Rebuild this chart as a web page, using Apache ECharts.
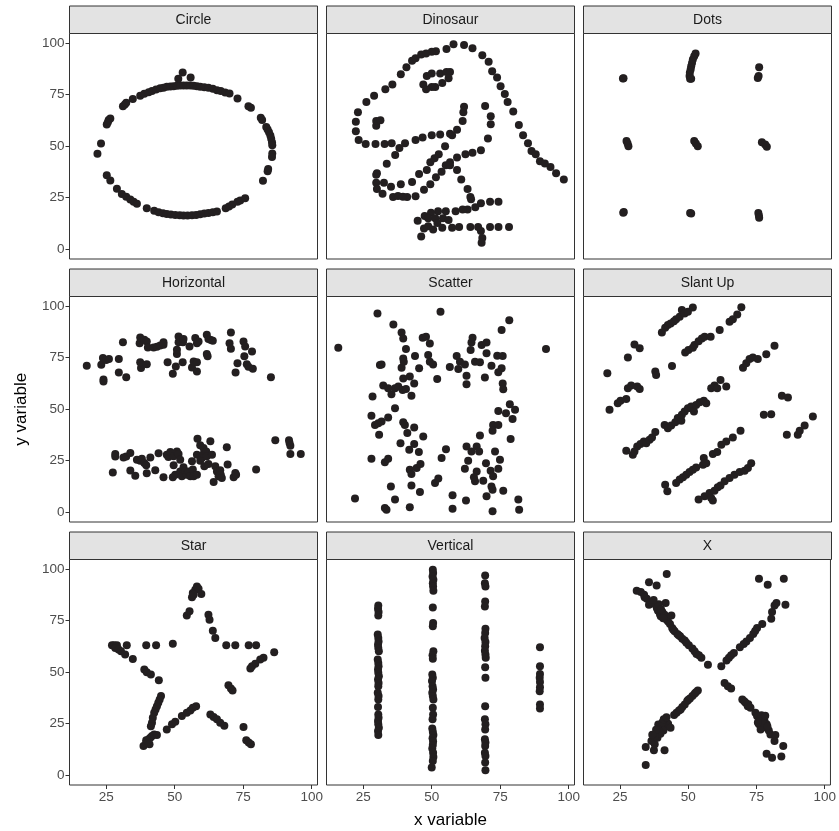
<!DOCTYPE html>
<html><head><meta charset="utf-8">
<script src="https://cdn.jsdelivr.net/npm/echarts@6/dist/echarts.min.js"></script>
<style>html,body{margin:0;padding:0;background:#fff}#c{width:839px;height:831px}</style>
</head><body><div id="c"></div>
<script>
const panelNames = ['Circle','Dinosaur','Dots','Horizontal','Scatter','Slant Up','Star','Vertical','X'];
const xTicks = [25,50,75,100];
const yTicks = [0,25,50,75,100];

const circle = [[21.8,46.2],[23.1,51.2],[25.2,60.5],[25.9,62.6],[26.5,63.4],[25.6,61.6],
[31.1,69.4],[31.8,70.2],[32.3,71.0],[34.7,72.9],
[37.4,74.4],[38.9,75.4],[40.5,76.2],[41.7,76.7],[43.2,77.5],[44.7,78.1],[45.9,78.3],[47.1,78.8],[48.4,78.9],[49.6,79.1],[50.8,79.3],[52.0,79.4],[53.2,79.4],[54.4,79.4],[55.7,79.4],[56.9,79.3],[58.1,79.1],[59.3,78.8],[60.8,78.6],[62.3,78.3],[63.9,77.8],[65.4,77.1],[66.8,76.7],[68.4,76.0],[70.0,75.5],
[72.9,73.1],[76.9,69.4],[77.8,68.6],[81.4,63.7],[81.9,62.6],
[83.4,59.3],[83.9,58.0],[84.4,56.7],[84.9,55.1],[85.2,53.5],[85.5,51.9],[85.6,50.4],[85.6,46.4],[85.5,44.7],[84.1,38.9],[83.9,37.8],[82.2,33.1],
[51.3,82.7],[52.9,85.7],[55.8,83.3],
[25.2,35.8],[26.5,33.2],[28.9,29.2],[30.7,26.7],[32.3,25.3],[33.8,24.0],[35.0,22.9],[36.2,21.9],[39.8,19.8],[42.5,18.5],[44.1,17.8],[45.7,17.3],[47.1,17.0],[48.6,16.7],[50.2,16.5],[51.8,16.4],[53.2,16.2],[54.7,16.2],[56.3,16.4],[57.8,16.5],[59.3,16.9],[60.8,17.2],[62.3,17.5],[63.9,17.8],[65.4,18.2],[68.6,19.8],[69.8,20.6],[71.0,21.6],[72.9,22.9],[73.9,23.5],[75.7,24.6]];

const dino = [[55.3846,97.1795],[51.5385,96.0256],[46.1538,94.4872],[42.8205,91.4103],[40.7692,88.3333],[38.7179,84.8718],[35.641,79.8718],[33.0769,77.5641],[28.9744,74.4872],[26.1538,71.4103],[23.0769,66.4103],[22.3077,61.7949],[22.3077,57.1795],[23.3333,52.9487],[25.8974,51.0256],[29.4872,51.0256],[32.8205,51.0256],[35.3846,51.4103],[40.2564,51.4103],[44.1026,52.9487],[46.6667,54.1026],[50.0,55.2564],[53.0769,55.641],[56.6667,56.0256],[59.2308,57.9487],[61.2821,62.1795],[61.5385,66.4103],[61.7949,69.1026],[57.4359,55.2564],[54.8718,49.8718],[52.5641,46.0256],[48.2051,38.3333],[49.4872,42.1795],[51.0256,44.1026],[45.3846,36.4103],[42.8205,32.5641],[38.7179,31.4103],[35.1282,30.2564],[32.5641,32.1795],[30.0,36.7949],[33.5897,41.4103],[36.6667,45.641],[38.2051,49.1026],[29.7436,36.0256],[29.7436,32.1795],[30.0,29.1026],[32.0513,26.7949],[35.8974,25.2564],[41.0256,25.2564],[44.1026,25.641],[47.1795,28.718],[49.4872,31.4103],[51.5385,34.8718],[53.5897,37.5641],[55.1282,40.641],[56.6667,42.1795],[59.2308,44.4872],[62.3077,46.0256],[64.8718,46.7949],[67.9487,47.9487],[70.5128,53.718],[71.5385,60.641],[71.5385,64.4872],[69.4872,69.4872],[46.9231,79.8718],[48.2051,84.1026],[50.0,85.2564],[53.0769,85.2564],[55.3846,86.0256],[56.6667,86.0256],[56.1538,82.9487],[53.8462,80.641],[51.2821,78.718],[50.0,78.718],[47.9487,77.5641],[29.7436,59.8718],[29.7436,62.1795],[31.2821,62.5641],[57.9487,99.4872],[61.7949,99.1026],[64.8718,97.5641],[68.4615,94.1026],[70.7692,91.0256],[72.0513,86.4103],[73.8462,83.3333],[75.1282,79.1026],[76.6667,75.2564],[77.6923,71.4103],[79.7436,66.7949],[81.7949,60.2564],[83.3333,55.2564],[85.1282,51.4103],[86.4103,47.5641],[87.9487,46.0256],[89.4872,42.5641],[93.3333,39.8718],[95.3846,36.7949],[98.2051,33.718],[56.6667,40.641],[59.2308,38.3333],[60.7692,33.718],[63.0769,29.1026],[64.1026,25.2564],[64.359,24.1026],[74.359,22.9487],[71.2821,22.9487],[67.9487,22.1795],[65.8974,20.2564],[63.0769,19.1026],[61.2821,19.1026],[58.7179,18.3333],[55.1282,18.3333],[52.3077,18.3333],[49.7436,17.5641],[47.4359,16.0256],[44.8718,13.718],[48.7179,14.8718],[51.2821,14.8718],[54.1026,14.8718],[56.1538,14.1026],[52.0513,12.5641],[48.7179,11.0256],[47.1795,9.8718],[46.1538,6.0256],[50.5128,9.4872],[53.8462,10.2564],[57.4359,10.2564],[60.0,10.641],[64.1026,10.641],[66.9231,10.641],[71.2821,10.641],[74.359,10.641],[78.2051,10.641],[67.9487,8.718],[68.4615,5.2564],[68.2051,2.9487],[37.6923,25.7692],[39.4872,25.3846],[91.2821,41.5385],[50.0,95.7692],[47.9487,95.0],[44.1026,92.6923]];

const dots = [[26.0,82.8],[26.2,83.0],
[50.5,82.7],[50.3,84.0],[50.4,85.6],[50.7,87.2],[50.9,88.8],[51.2,90.4],[51.5,92.1],[52.0,93.7],[52.5,95.0],[50.9,82.7],
[75.7,88.3],[75.2,83.1],[75.5,84.0],
[27.7,51.2],[28.0,49.9],[27.3,52.4],
[52.6,51.2],[52.0,52.4],[53.3,49.9],
[76.7,51.9],[77.9,50.7],[78.5,49.6],
[26.3,18.0],[26.1,17.6],
[50.9,17.2],[50.5,17.5],
[75.6,16.2],[75.4,17.5],[75.7,15.1]];

const horizontal = [[17.9,71.0],[23.2,71.5],[23.8,74.8],[25.0,73.8],[26.0,74.3],[24.0,64.4],[24.0,63.4],[29.6,74.3],[29.6,67.8],[32.3,65.5],[31.1,82.5],[37.2,82.0],[37.4,84.8],[38.9,83.7],[39.8,82.8],[40.2,79.9],[37.7,69.9],[37.4,72.7],[39.8,71.8],[42.3,79.9],[43.5,80.3],[44.7,80.9],[45.9,82.5],[45.9,81.2],[47.4,72.7],[49.3,67.2],[50.4,70.7],[50.8,76.7],[50.8,78.8],[51.4,82.5],[51.4,85.3],[53.0,82.5],[53.2,84.1],[52.9,72.8],[55.4,80.4],[56.3,70.2],[56.9,73.1],[58.1,68.3],[58.1,72.8],[57.5,84.5],[58.1,82.0],[58.7,82.8],[61.7,86.1],[62.3,84.1],[63.2,83.5],[63.9,83.2],[61.7,76.7],[62.0,75.6],[70.5,87.2],[70.0,82.0],[70.5,79.3],[72.2,67.8],[72.9,72.3],[75.1,82.8],[75.7,80.4],[75.4,75.6],[76.3,71.8],[76.9,70.6],[78.2,78.0],[78.5,69.6],[85.1,65.5],
[27.4,19.1],[28.3,28.2],[28.3,26.9],[31.3,26.5],[32.3,26.9],[33.8,28.6],[33.8,20.1],[35.6,17.6],[36.2,25.4],[37.4,24.9],[38.0,25.9],[38.9,23.8],[39.6,22.7],[39.8,18.8],[41.1,26.5],[42.9,20.2],[44.1,28.5],[45.9,16.8],[47.1,27.8],[47.7,26.7],[48.4,29.1],[49.3,16.8],[49.6,27.0],[49.6,22.7],[50.2,18.1],[50.8,29.4],[51.4,28.2],[52.0,25.4],[52.0,19.7],[52.6,17.3],[53.2,21.7],[53.8,19.7],[54.4,18.1],[55.0,19.7],[55.7,17.3],[56.3,24.6],[56.6,20.6],[56.9,17.3],[58.1,18.1],[58.1,27.8],[58.3,35.6],[59.3,32.4],[59.3,24.9],[59.9,26.2],[60.5,28.2],[60.5,31.1],[60.8,22.2],[61.5,29.4],[61.7,27.0],[62.3,23.3],[63.0,34.3],[63.6,27.8],[64.2,14.6],[64.8,22.2],[65.4,19.7],[66.0,17.3],[66.6,20.2],[66.8,18.1],[67.2,16.5],[69.0,31.4],[69.3,23.0],[71.5,16.8],[72.1,18.9],[72.4,18.1],[79.7,20.6],[86.7,34.8],[91.7,34.8],[91.9,33.5],[92.2,28.2],[92.2,32.2],[96.0,28.2]];

const scatter = [[15.9,79.8],[30.2,96.4],[53.2,97.3],[36.0,91.1],[39.0,87.2],[39.6,84.3],[40.6,79.2],[39.6,74.6],[39.0,70.1],[39.8,73.0],[43.9,75.8],[45.4,69.8],[46.7,84.7],[47.9,85.1],[49.3,81.9],[48.7,76.3],[49.3,73.0],[50.5,71.7],[52.0,64.6],[31.1,71.4],[31.7,71.7],[39.6,64.9],[42.0,65.8],[43.6,62.4],[32.3,61.4],[34.1,60.1],[35.3,57.2],[36.6,60.1],[37.8,60.9],[39.4,59.3],[40.6,59.8],[42.6,56.5],[28.4,56.1],[36.6,50.4],[28.0,46.7],[29.3,42.3],[30.5,43.1],[31.7,43.9],[34.1,45.9],[30.8,37.5],[39.6,43.6],[40.2,42.3],[41.1,38.3],[43.6,41.0],[46.9,36.7],[38.6,33.4],[41.8,30.2],[43.6,33.0],[45.3,29.1],[28.0,25.8],[32.9,24.2],[34.1,25.8],[42.0,20.5],[42.6,18.4],[44.5,21.3],[45.9,23.3],[51.2,14.1],[52.4,16.2],[53.6,26.2],[55.2,30.5],[35.1,12.3],[42.6,12.9],[45.7,9.7],[22.0,6.5],[36.6,6.0],[32.9,1.9],[33.5,1.1],[42.0,2.3],[57.6,8.1],[57.6,1.6],[62.5,5.5],[70.0,7.6],[72.2,0.3],[76.1,10.3],[81.6,6.0],[81.9,1.1],
[78.3,93.1],[75.5,88.4],[64.9,84.7],[64.5,82.4],[64.2,78.7],[68.2,81.1],[70.0,82.4],[70.0,77.1],[59.1,75.8],[60.3,73.0],[59.7,69.5],[62.1,71.7],[56.6,70.4],[65.8,73.0],[67.6,72.7],[62.7,66.2],[62.7,62.0],[69.4,65.3],[71.8,71.1],[73.9,75.9],[75.9,75.8],[75.5,69.8],[74.3,67.9],[75.9,62.4],[76.1,59.6],[91.7,79.2],[74.3,49.1],[77.1,48.0],[78.5,52.3],[80.4,49.6],[79.5,45.2],[72.4,42.3],[74.3,42.3],[72.2,39.4],[78.8,35.5],[67.6,37.2],[62.7,31.8],[64.5,29.4],[66.4,31.8],[67.3,29.4],[73.1,29.4],[74.9,25.4],[74.3,21.0],[71.5,20.0],[72.4,17.3],[69.8,23.7],[63.3,24.9],[62.1,21.0],[66.4,19.7],[68.8,15.2],[65.8,14.9],[65.4,16.8],[71.8,12.4],[72.2,10.8]];

const slantUp = [[40.2,87.2],[41.4,89.5],[42.4,90.8],[43.4,91.6],[44.6,92.7],[45.4,93.7],[46.7,94.8],[47.5,98.1],[48.5,96.4],[49.7,97.3],[51.5,99.4],
[27.8,75.0],[30.2,81.4],[32.1,79.5],
[20.3,67.4],[37.8,68.2],[38.1,66.6],[43.9,70.9],
[48.7,77.5],[49.9,78.7],[51.5,79.8],[52.1,81.1],[53.6,83.0],[54.8,84.3],[55.8,85.1],[58.0,85.1],[61.3,88.4],[64.9,92.4],[66.1,93.7],[67.7,96.0],[69.2,99.5],
[21.1,49.6],[24.1,52.8],[25.1,54.0],[27.2,54.9],[27.8,60.1],[29.0,61.4],[31.2,60.9],[32.1,59.8],
[27.2,29.7],[29.6,27.8],[30.2,29.4],[31.2,31.8],[32.4,33.0],[33.6,34.2],[34.5,33.4],[35.7,35.1],[36.6,36.2],[37.8,38.8],[41.2,42.3],[42.4,40.7],[43.6,42.0],[45.1,43.6],[46.0,45.6],[47.3,44.3],[47.5,47.2],[48.5,48.8],[49.7,50.4],[50.9,51.2],[51.9,48.8],[52.7,52.0],[54.0,53.3],[55.5,54.0],[56.4,52.8],
[58.2,60.1],[59.4,61.4],[60.4,60.1],[61.6,64.1],[63.7,60.9],
[69.8,70.1],[71.0,72.2],[72.2,74.3],[73.4,75.0],[75.2,74.3],[78.3,76.6],[81.3,80.8],
[84.0,56.5],[86.2,55.6],[77.4,47.2],[80.1,47.5],
[85.8,37.5],[89.8,37.5],[90.5,39.4],[92.3,42.0],[95.3,46.4],
[41.4,13.2],[42.2,10.0],[45.4,14.1],[46.7,15.7],[47.9,16.8],[49.1,18.1],[50.3,19.4],[51.5,20.5],[52.7,21.6],[55.2,22.9],[55.5,26.2],[56.4,23.7],[58.8,28.1],[60.4,29.1],[61.9,32.6],[63.7,34.2],[66.1,36.2],[68.9,39.4],
[53.6,6.0],[55.8,7.6],[57.6,9.2],[58.8,5.5],[59.4,10.3],[60.6,12.0],[61.6,12.9],[63.1,14.9],[64.9,16.5],[66.7,18.1],[68.6,19.4],[70.4,20.0],[71.6,21.3],[72.8,23.7],[58.2,6.8]];

const star = [[27.1,63.0],[27.9,63.0],[28.9,63.0],[28.3,61.7],[29.5,60.9],[30.4,60.1],[31.9,58.5],[34.7,56.4],[32.5,63.0],
[39.6,63.0],[43.2,63.0],[49.3,63.7],
[38.9,51.2],[39.8,49.9],[41.3,48.8],[44.2,46.0],
[45.0,38.3],[44.5,36.7],[44.0,35.1],[43.5,33.4],[43.0,31.8],[42.5,30.2],[42.0,27.8],[41.7,25.4],[41.3,23.7],
[38.6,14.1],[39.6,15.7],[40.5,17.3],[41.1,18.1],[41.7,18.9],[42.5,19.7],[43.5,19.4],[39.6,16.8],[40.8,14.9],[47.1,22.1],[49.0,24.6],[50.2,25.8],[52.6,28.6],[54.4,30.2],[55.7,31.3],[56.6,32.6],[57.8,33.4],
[54.4,77.5],[55.4,79.5],[56.3,86.3],[56.6,88.4],[57.5,90.0],[58.1,91.6],[58.7,90.5],[59.7,87.9],[56.9,87.6],
[62.3,77.9],[62.7,75.4],[63.9,70.1],[64.8,66.6],[68.8,63.0],[72.1,63.0],[77.0,63.0],[79.7,63.0],
[86.3,59.6],[82.4,56.9],[81.2,56.1],[79.4,54.0],[78.2,52.8],[77.6,51.7],
[69.6,43.6],[70.5,42.0],[71.1,41.0],
[63.0,29.4],[64.2,28.1],[65.4,27.0],[66.6,25.4],[68.1,23.9],[75.1,23.3],[76.1,16.8],[77.0,15.7],[77.8,14.9]];

const vertical = [
[30.5,82.4],[30.4,80.8],[30.6,79.2],[30.5,77.5],[30.3,68.2],[30.5,66.6],[30.6,64.9],[30.4,63.3],[30.5,61.7],[30.7,60.1],[30.3,56.1],[30.5,54.4],[30.6,52.8],[30.4,51.2],[30.5,49.6],[30.7,48.0],[30.4,46.4],[30.6,44.7],[30.5,43.1],[30.3,39.9],[30.6,38.3],[30.5,36.7],[30.4,33.0],[30.5,29.4],[30.6,27.8],[30.4,26.2],[30.5,24.6],[30.7,22.9],[30.4,21.3],[30.5,19.4],
[50.4,99.7],[50.5,98.1],[50.3,96.4],[50.6,94.8],[50.4,93.2],[50.5,91.6],[50.6,89.5],[50.4,81.4],[50.5,73.8],[50.4,72.2],[50.6,60.1],[50.3,58.2],[50.4,56.5],[50.2,48.8],[50.4,47.2],[50.1,45.6],[50.3,43.1],[50.5,41.5],[50.2,39.9],[50.4,38.3],[50.6,36.7],[50.4,32.6],[50.5,29.4],[50.3,27.0],[50.2,22.6],[50.4,21.0],[50.6,19.4],[50.3,17.8],[50.5,16.2],[50.4,14.5],[50.2,12.9],[50.5,10.8],[50.6,8.7],[50.4,6.8],[50.0,3.6],
[69.5,96.9],[69.4,93.2],[69.6,91.6],[69.5,84.3],[69.4,81.9],[69.6,71.1],[69.5,69.0],[69.3,66.6],[69.6,64.6],[69.5,62.5],[69.4,60.4],[69.6,58.5],[69.7,56.9],[69.5,52.3],[69.6,47.2],[69.5,33.4],[69.4,27.0],[69.6,24.6],[69.5,22.1],[69.4,17.3],[69.6,15.7],[69.5,14.1],[69.4,10.8],[69.6,9.2],[69.5,6.0],[69.6,2.3],
[89.5,62.0],[89.5,52.8],[89.5,49.1],[89.4,47.2],[89.5,45.2],[89.5,42.6],[89.4,40.7],[89.5,34.2],[89.5,32.3]];

const xShape = [[31.1,89.5],[32.6,88.9],[33.8,87.6],[34.8,85.6],[35.6,82.7],[36.0,84.0],[36.8,83.5],[38.0,82.7],[38.9,79.8],[39.6,78.2],[39.9,77.1],[40.5,79.2],[41.3,77.9],[41.7,83.5],[42.1,75.4],[42.6,74.6],[43.3,73.3],[43.8,77.5],[44.1,71.4],[45.0,69.8],[46.0,68.5],[47.0,67.4],[47.8,66.2],[48.7,65.3],[50.2,63.0],[51.5,61.4],[52.3,60.1],[53.0,58.8],[53.9,58.2],[54.8,56.9],[57.2,53.6],[35.6,93.7],[38.4,92.1],[42.1,97.6],
[38.5,81.0],[39.2,83.0],[40.0,80.5],[40.8,76.2],[37.3,85.0],[34.0,86.3],[44.5,70.5],[46.5,67.9],[49.3,64.2],
[34.4,4.8],[34.4,13.6],[36.5,16.5],[37.4,12.0],[37.7,14.9],[38.7,18.1],[39.3,21.3],[40.1,22.6],[40.9,21.6],[41.3,12.0],[41.7,23.7],[42.6,24.9],[43.5,22.9],[44.8,29.1],[45.7,30.2],[46.6,31.3],[47.8,33.0],[48.7,34.2],[49.6,35.9],[50.6,37.2],[51.5,38.3],[52.3,39.4],[53.5,41.0],
[39.0,24.5],[40.5,25.5],[39.8,20.0],[37.8,18.8],[41.0,27.0],[42.0,28.0],[38.2,22.0],[36.8,19.5],[47.2,31.8],[50.0,36.5],[52.8,40.2],
[62.1,52.8],[64.0,55.6],[64.9,56.9],[65.7,58.2],[66.7,59.3],[68.9,62.0],[71.3,64.9],[72.6,66.6],[73.8,68.5],[75.2,71.4],[77.1,73.3],[80.4,75.9],[80.7,79.2],[81.6,82.4],[82.3,83.5],[85.6,82.7],[75.9,95.3],[79.1,92.4],[85.0,95.3],
[70.3,63.6],[74.5,70.0],
[63.3,44.7],[64.5,43.1],[65.7,42.0],[69.8,36.7],[71.0,35.1],[71.8,33.4],[72.8,32.6],[74.6,30.2],[75.2,28.6],[76.2,27.0],[75.9,24.6],[77.1,22.9],[77.9,26.2],[78.7,24.6],[76.5,22.1],[79.5,21.6],[80.1,19.7],[81.9,19.4],[81.6,16.5],[84.8,14.1],[78.7,10.3],[80.7,8.4],[84.1,8.9],
[76.8,29.0],[77.5,27.8],[78.2,28.8],[76.0,26.0],[77.2,25.2],[79.0,23.5],[75.5,25.5],[72.0,34.3],[70.5,35.8]];

const panelData = [circle, dino, dots, horizontal, scatter, slantUp, star, vertical, xShape];

const FONT = '"Liberation Sans", Arial, Helvetica, sans-serif';
const colLeft = [69.5, 326.5, 583.5];
const plotW = 248;
const rowTop = [33.5, 296.5, 559.5];
const plotH = 225.5;
const stripH = 27.5;

const grids = [], xAxes = [], yAxes = [], series = [], graphics = [];
panelNames.forEach((name, i) => {
  const col = i % 3, row = Math.floor(i / 3);
  grids.push({left: colLeft[col], top: rowTop[row], width: plotW, height: plotH,
    show: true, borderColor: '#333333', borderWidth: 1, backgroundColor: '#ffffff'});
  xAxes.push({gridIndex: i, type: 'value', min: 11.6, max: 102.1, position: 'bottom',
    axisLine: {show: false, onZero: false}, splitLine: {show: false},
    axisTick: {show: row === 2, customValues: xTicks, length: 4, lineStyle: {color: '#333333'}},
    axisLabel: {show: row === 2, customValues: xTicks, color: '#4d4d4d', fontSize: 13.5, fontFamily: FONT, margin: 5}});
  yAxes.push({gridIndex: i, type: 'value', min: -4.9, max: 104.7, position: 'left',
    axisLine: {show: false, onZero: false}, splitLine: {show: false},
    axisTick: {show: col === 0, customValues: yTicks, length: 4, lineStyle: {color: '#333333'}},
    axisLabel: {show: col === 0, customValues: yTicks, color: '#4d4d4d', fontSize: 13.5, fontFamily: FONT, margin: 5}});
  series.push({type: 'scatter', xAxisIndex: i, yAxisIndex: i, data: panelData[i],
    symbolSize: 8, itemStyle: {color: '#231f20', opacity: 1}, silent: true, animation: false});
  graphics.push({type: 'rect', shape: {x: colLeft[col], y: rowTop[row] - stripH, width: plotW, height: stripH},
    style: {fill: '#e3e3e3', stroke: '#333333', lineWidth: 1}});
  graphics.push({type: 'text', x: colLeft[col] + plotW / 2, y: rowTop[row] - stripH / 2,
    style: {text: name, fill: '#1a1a1a', font: '14px ' + FONT, textAlign: 'center', textVerticalAlign: 'middle'}});
});
graphics.push({type: 'text', x: colLeft[0] + (colLeft[2] + plotW - colLeft[0]) / 2, y: 820,
  style: {text: 'x variable', fill: '#000000', font: '17px ' + FONT, textAlign: 'center', textVerticalAlign: 'middle'}});
graphics.push({type: 'text', x: 21, y: (rowTop[0] + rowTop[2] + plotH) / 2, rotation: Math.PI / 2,
  style: {text: 'y variable', fill: '#000000', font: '17px ' + FONT, textAlign: 'center', textVerticalAlign: 'middle'}});

const chart = echarts.init(document.getElementById('c'), null, {renderer: 'canvas'});
chart.setOption({animation: false, backgroundColor: '#ffffff', grid: grids, xAxis: xAxes, yAxis: yAxes, series: series, graphic: graphics});
</script></body></html>
